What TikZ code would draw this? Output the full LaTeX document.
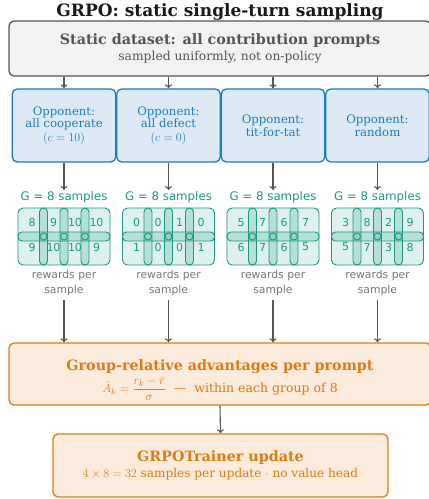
\documentclass[tikz,border=0pt]{standalone}
\usepackage{fontspec}
\setmainfont{DejaVu Serif}
\setsansfont{DejaVu Sans}
\usetikzlibrary{positioning,arrows.meta}

\definecolor{dsgray}{HTML}{555555}
\definecolor{dsfill}{HTML}{F2F2F2}
\definecolor{oppblue}{HTML}{1F7BBF}
\definecolor{oppfill}{HTML}{DDEAF5}
\definecolor{grpteal}{HTML}{1A9985}
\definecolor{rwgray}{HTML}{777777}
\definecolor{advorange}{HTML}{E07B12}
\definecolor{advfill}{HTML}{FBEBDC}

\tikzset{
  box/.style={draw, rounded corners=5pt, line width=1.3pt, align=center, inner sep=0pt},
  dsbox/.style={box, draw=dsgray, fill=dsfill, text=dsgray,
    minimum width=422pt, minimum height=55pt, font=\fontsize{12.3}{14}\selectfont},
  oppbox/.style={box, draw=oppblue, fill=oppfill, text=oppblue,
    minimum width=103.5pt, minimum height=73pt, font=\fontsize{11.7}{12.5}\selectfont},
  advbox/.style={box, draw=advorange, fill=advfill, text=advorange,
    font=\fontsize{12.5}{14}\selectfont},
  advtext/.style={text=advorange, align=center, inner sep=0pt, font=\fontsize{12.5}{14}\selectfont},
  sampbox/.style={draw=grpteal, fill=grpteal!14, rounded corners=5pt, line width=0.9pt,
    minimum width=92pt, minimum height=57pt, inner sep=0pt},
  bar/.style={draw=grpteal, fill=grpteal, fill opacity=0.2, line width=0.9pt, rounded corners=4pt},
  knot/.style={draw=grpteal, line width=0.9pt},
  num/.style={text=grpteal, font=\sffamily\fontsize{11}{12}\selectfont, inner sep=0pt},
  glabel/.style={text=grpteal, font=\sffamily\fontsize{11.8}{13}\selectfont, inner sep=1pt},
  rwlabel/.style={text=rwgray, align=center, font=\sffamily\fontsize{10.8}{15}\selectfont, inner sep=1pt},
  flow/.style={-{To[length=4pt,width=7pt]}, draw=dsgray, line width=1.1pt},
  head/.style={font=\bfseries\fontsize{14.3}{16}\selectfont}
}

\begin{document}
\begin{tikzpicture}[x=1pt,y=-1pt]
  \useasboundingbox (0,0) rectangle (429,499);

  \node[font=\bfseries\fontsize{17}{20}\selectfont, text=black!90] (title) at (220,12)
    {GRPO: static single-turn sampling};

  \node[dsbox] (data) at (220,48.5)
    {{\bfseries\fontsize{14.3}{16}\selectfont Static dataset: all contribution prompts}\\[2pt]
     sampled uniformly, not on-policy};

  % the four opponents, side by side
  \node[oppbox] (opp1) at (64,125.5)
    {Opponent:\\all cooperate\\[1pt]{\fontsize{11.5}{12}\selectfont$(c=10)$}};
  \node[oppbox] (opp2) at (168.5,125.5)
    {Opponent:\\all defect\\[1pt]{\fontsize{11.5}{12}\selectfont$(c=0)$}};
  \node[oppbox] (opp3) at (273,125.5) {Opponent:\\tit-for-tat};
  \node[oppbox] (opp4) at (377.5,125.5) {Opponent:\\random};

  % advantage box, text set a little below its middle
  \node[advbox, minimum width=422pt, minimum height=62pt] (adv) at (220,374) {};
  \node[advtext] (advtxt) at (220,380)
    {{\bfseries\fontsize{14.3}{16}\selectfont Group-relative advantages per prompt}\\[3pt]
     $\hat{A}_k=\displaystyle\frac{r_k-\bar{r}}{\sigma}$\ \ --- \ within each group of 8};

  \node[advbox, minimum width=335pt, minimum height=63pt] (upd) at (220.5,465.5)
    {{\bfseries\fontsize{14.3}{16}\selectfont GRPOTrainer update}\\[2pt]
     {\fontsize{12.1}{13}\selectfont $4\times8=32$ samples per update $\cdot$ no value head}};

  % one group of sampled rewards per opponent
  \foreach \i/\x/\top/\bot in {1/64/{8,9,10,10}/{9,10,10,9},
                               2/168.5/{0,0,1,0}/{1,0,0,1},
                               3/273/{5,7,6,7}/{6,7,6,5},
                               4/377.5/{3,8,2,9}/{5,7,3,8}} {
    \draw[flow] (data.south -| opp\i) -- (opp\i.north);

    \node[glabel] (g\i) at (\x,197) {G = 8 samples};
    \draw[flow] (opp\i.south) -- (g\i.north);

    \node[sampbox] (s\i) at (\x,236.5) {};
    \begin{scope}[shift={(s\i.center)}]
      \draw[bar] (-46,-4.5) rectangle (46,4.5);
      \foreach \dx in {-20.5,0,21} {
        \draw[bar] (\dx-4,-28.5) rectangle (\dx+4,28.5);
        \draw[knot] (\dx,0) circle (3.5);
      }
      \foreach \n [count=\k] in \top
        \node[num] (t\i\k) at ({-53.5+21.5*\k},-14) {\n};
      \foreach \n [count=\k] in \bot
        \node[num] (b\i\k) at ({-53.5+21.5*\k},10.5) {\n};
    \end{scope}

    \node[rwlabel] (rw\i) at (\x,283) {rewards per\\sample};
    \draw[flow, shorten <=3pt] (rw\i.south) -- (rw\i |- adv.north);
  }

  \draw[flow] (adv.south) -- (upd.north);
\end{tikzpicture}
\end{document}
